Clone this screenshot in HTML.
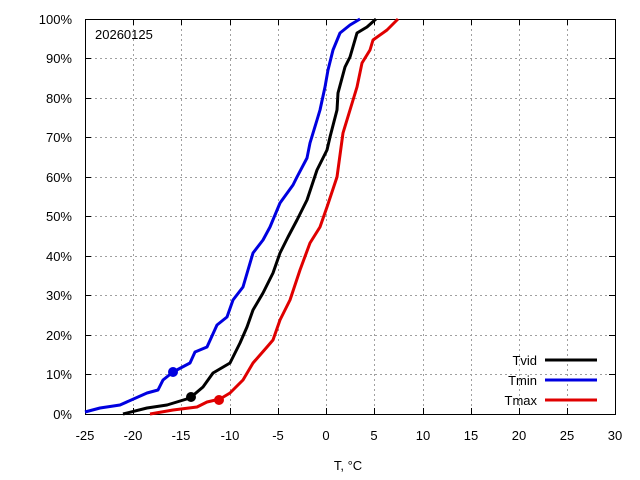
<!DOCTYPE html><html><head><style>body{margin:0;background:#fff}svg{display:block}text{font-family:"Liberation Sans",sans-serif;font-size:13px;fill:#000}</style></head><body>
<svg width="640" height="480" xmlns="http://www.w3.org/2000/svg">
<g stroke="#a0a0a0" stroke-width="1" stroke-dasharray="2,3">
<path d="M133.5 19V414M181.5 19V414M230.5 19V414M278.5 19V414M326.5 19V414M374.5 19V414M423.5 19V414M471.5 19V414M519.5 19V414M567.5 19V414"/>
<path d="M85 374.5H615M85 335.5H615M85 295.5H615M85 256.5H615M85 216.5H615M85 177.5H615M85 137.5H615M85 98.5H615M85 58.5H615"/>
</g>
<g stroke="#000" stroke-width="1">
<rect x="85.5" y="19.5" width="530" height="395" fill="none"/>
<path d="M85 374.5h6M85 335.5h6M85 295.5h6M85 256.5h6M85 216.5h6M85 177.5h6M85 137.5h6M85 98.5h6M85 58.5h6M615 374.5h-6M615 335.5h-6M615 295.5h-6M615 256.5h-6M615 216.5h-6M615 177.5h-6M615 137.5h-6M615 98.5h-6M615 58.5h-6"/>
<path d="M133.5 414v-6M181.5 414v-6M230.5 414v-6M278.5 414v-6M326.5 414v-6M374.5 414v-6M423.5 414v-6M471.5 414v-6M519.5 414v-6M567.5 414v-6M133.5 19v6M181.5 19v6M230.5 19v6M278.5 19v6M326.5 19v6M374.5 19v6M423.5 19v6M471.5 19v6M519.5 19v6M567.5 19v6"/>
</g>
<g fill="none" stroke-width="3" stroke-linejoin="round">
<polyline stroke="#0000e0" points="85,412 100,408 120,405 147,393 158,390 163,380 173,372 190,363 195,352 207,347 217,325 227,317 233,300 243,287 253,253 263,240 270,227 280,203 293,185 297,177 307,158 310,143 317,120 320,110 325,87 328,70 333,50 340,33 350,25 360,19"/>
<polyline stroke="#000" points="123,414 147,408 167,405 190,398 203,387 213,373 230,363 240,343 247,327 253,310 263,293 273,273 280,253 288,237 297,220 307,200 317,170 327,150 330,137 337,110 338,93 345,67 350,57 357,33 367,27 376,19"/>
<polyline stroke="#e00000" points="150,414 173,410 197,407 207,402 220,399 230,393 243,380 253,363 267,347 273,340 280,320 290,300 300,270 310,243 320,227 327,207 337,177 343,133 350,110 357,87 362,63 370,50 373,40 387,30 398,19"/>
<line x1="545" y1="360" x2="597" y2="360" stroke="#000"/>
<line x1="545" y1="380" x2="597" y2="380" stroke="#0000e0"/>
<line x1="545" y1="400" x2="597" y2="400" stroke="#e00000"/>
</g>
<circle cx="173" cy="372" r="5" fill="#0000e0"/>
<circle cx="191" cy="397" r="5" fill="#000"/>
<circle cx="219" cy="400" r="5" fill="#e00000"/>
<text x="95" y="39">20260125</text>
<g text-anchor="end"><text x="537" y="365">Tvid</text><text x="537" y="385">Tmin</text><text x="537" y="405">Tmax</text>
<text x="72" y="419">0%</text><text x="72" y="379">10%</text><text x="72" y="340">20%</text><text x="72" y="300">30%</text><text x="72" y="261">40%</text><text x="72" y="221">50%</text><text x="72" y="182">60%</text><text x="72" y="142">70%</text><text x="72" y="103">80%</text><text x="72" y="63">90%</text><text x="72" y="24">100%</text></g>
<g text-anchor="middle"><text x="85" y="440">-25</text><text x="133" y="440">-20</text><text x="181" y="440">-15</text><text x="230" y="440">-10</text><text x="278" y="440">-5</text><text x="326" y="440">0</text><text x="374" y="440">5</text><text x="423" y="440">10</text><text x="471" y="440">15</text><text x="519" y="440">20</text><text x="567" y="440">25</text><text x="615" y="440">30</text>
<text x="348" y="470">T, °C</text></g>
</svg></body></html>
